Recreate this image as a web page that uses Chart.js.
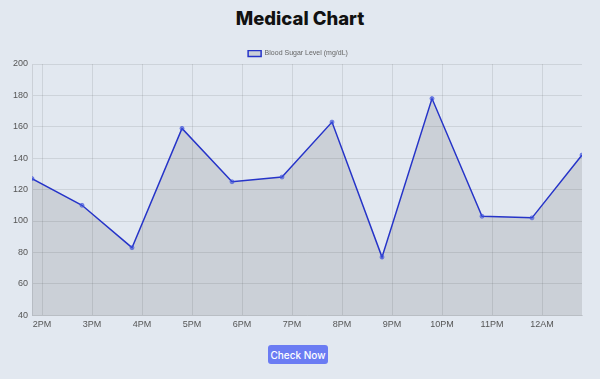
<!DOCTYPE html>
<html>
<head>
<meta charset="utf-8">
<script src="https://cdn.jsdelivr.net/npm/chart.js@4.4.0/dist/chart.umd.min.js"></script>
<style>
  html, body { margin: 0; padding: 0; background: #e2e8f0; width: 600px; height: 379px; overflow: hidden; font-family: Inter, sans-serif; }
  h1 { position: absolute; top: 0; left: 0; width: 600px; margin: 0; line-height: 36px; text-align: center; font-size: 18.5px; font-weight: 800; color: #111; }
  #wrap { position: absolute; left: 0; top: 41px; width: 587px; height: 293px; }
  #btn { position: absolute; left: 268px; top: 345px; width: 60px; height: 19px; background: #6b7cf3; color: #fff; border: 0; border-radius: 3px; font-family: Inter, sans-serif; font-size: 10px; font-weight: 500; padding: 0; }
</style>
</head>
<body>
<h1>Medical Chart</h1>
<div id="wrap"><canvas id="sugarChart"></canvas></div>
<button id="btn">Check Now</button>
<script>
// readings (hour of day, 24 = midnight) and blood sugar values
const readingHours = [13.8, 14.8, 15.8, 16.8, 17.8, 18.8, 19.8, 20.8, 21.8, 22.8, 23.8, 24.8];
const sugarLevels = [127, 110, 83, 159, 125, 128, 163, 77, 178, 103, 102, 142];
const hourLabels = ['2PM', '3PM', '4PM', '5PM', '6PM', '7PM', '8PM', '9PM', '10PM', '11PM', '12AM'];
const firstHour = 14;

document.addEventListener('DOMContentLoaded', function() {
    const ctx = document.getElementById('sugarChart').getContext('2d');
    new Chart(ctx, {
        type: 'line',
        data: {
            datasets: [{
                label: 'Blood Sugar Level (mg/dL)',
                data: readingHours.map((h, i) => ({ x: h, y: sugarLevels[i] })),
                borderColor: '#2634c8',
                backgroundColor: 'rgba(0,0,0,0.1)',
                borderWidth: 1.5,
                fill: true,
                tension: 0,
                pointRadius: 2,
                pointBackgroundColor: 'rgba(60,80,220,0.5)',
                pointBorderColor: 'rgba(60,80,220,0.6)',
                pointBorderWidth: 1
            }]
        },
        options: {
            responsive: true,
            maintainAspectRatio: false,
            animation: false,
            layout: { padding: { left: 9, right: 0, top: 9, bottom: 0 } },
            plugins: {
                legend: {
                    position: 'top',
                    maxHeight: 14,
                    labels: { boxWidth: 13, boxHeight: 6, font: { size: 7 }, color: '#666', padding: 0 }
                },
                tooltip: { enabled: false }
            },
            scales: {
                x: {
                    type: 'linear',
                    min: readingHours[0],
                    max: readingHours[readingHours.length - 1],
                    afterBuildTicks: scale => {
                        scale.ticks = hourLabels.map((_, i) => ({ value: firstHour + i }));
                    },
                    ticks: {
                        padding: 4,
                        font: { size: 9 },
                        color: '#555',
                        callback: v => hourLabels[v - firstHour] || ''
                    },
                    grid: { color: 'rgba(0,0,0,0.09)', drawTicks: false }
                },
                y: {
                    min: 40,
                    max: 200,
                    ticks: { stepSize: 20, padding: 4, font: { size: 9 }, color: '#555' },
                    grid: { color: 'rgba(0,0,0,0.09)', drawTicks: false }
                }
            }
        }
    });
});
</script>
</body>
</html>
